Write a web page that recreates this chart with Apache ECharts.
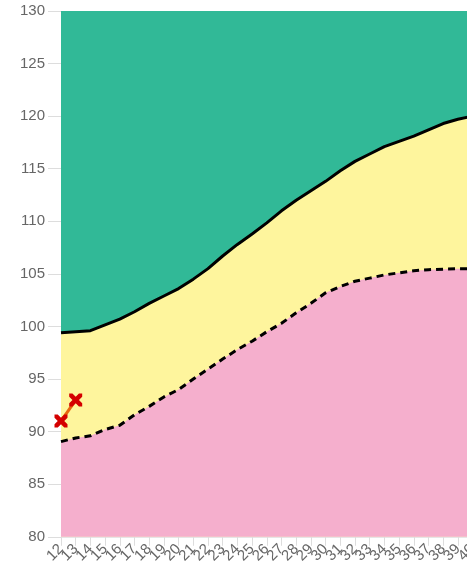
<!DOCTYPE html>
<html>
<head>
<meta charset="utf-8">
<script src="https://cdn.jsdelivr.net/npm/echarts@6/dist/echarts.min.js"></script>
<style>
  html, body { margin: 0; padding: 0; background: #fff; overflow: hidden; }
  #chart { width: 480px; height: 566px; }
</style>
</head>
<body>
<div id="chart"></div>
<script>
// ages along the x axis
const categories = ['12', '13', '14', '15', '16', '17', '18', '19', '20', '21', '22', '23', '24', '25', '26', '27', '28', '29', '30', '31', '32', '33', '34', '35', '36', '37', '38', '39', '40']
// upper reference curve (solid)
const upperValues = [99.4, 99.5, 99.6, 100.15, 100.7, 101.4, 102.2, 102.9, 103.6, 104.5, 105.5, 106.7, 107.8, 108.8, 109.85, 111.0, 112.0, 112.9, 113.8, 114.8, 115.7, 116.4, 117.1, 117.6, 118.1, 118.7, 119.3, 119.7, 120.0]
// lower reference curve (dashed)
const lowerValues = [89.05, 89.4, 89.6, 90.2, 90.6, 91.6, 92.4, 93.3, 94.0, 95.0, 95.95, 96.9, 97.8, 98.6, 99.5, 100.3, 101.3, 102.2, 103.2, 103.8, 104.3, 104.6, 104.9, 105.1, 105.3, 105.4, 105.45, 105.5, 105.5]
// measured points
const measured = [91, 93]
const yTicks = { min: 80, max: 130, step: 5 }

const crossPath = 'path://M0,0 L2.5,0 L5,2.5 L7.5,0 L10,0 L10,2.5 L7.5,5 L10,7.5 L10,10 L7.5,10 L5,7.5 L2.5,10 L0,10 L0,7.5 L2.5,5 L0,2.5 Z'

const chart = echarts.init(document.getElementById('chart'))
chart.setOption({
  animation: false,
  grid: { left: 61, right: 2, top: 11, bottom: 29 },
  xAxis: {
    type: 'category',
    boundaryGap: false,
    data: categories,
    axisLine: { show: false },
    axisTick: { show: true, length: 9, lineStyle: { color: '#ddd' } },
    axisLabel: { rotate: 45, interval: 0, color: '#666', fontSize: 15, margin: 10, fontFamily: 'Liberation Sans' }
  },
  yAxis: {
    type: 'value',
    min: yTicks.min,
    max: yTicks.max,
    interval: yTicks.step,
    axisLine: { show: false },
    axisTick: { show: true, length: 13, lineStyle: { color: '#ddd' } },
    axisLabel: { color: '#666', fontSize: 15, margin: 16, fontFamily: 'Liberation Sans' },
    splitLine: { show: true, lineStyle: { color: '#e6e6e6' } }
  },
  series: [
    {
      // yellow band under upper curve
      type: 'line',
      data: upperValues,
      symbol: 'none',
      lineStyle: { width: 0 },
      areaStyle: { color: '#fef59d', opacity: 1, origin: 'start' },
      z: 1
    },
    {
      type: 'line',
      data: lowerValues,
      symbol: 'none',
      lineStyle: { color: '#000', width: 3, type: [7, 5] },
      areaStyle: { color: '#f5afcd', opacity: 1, origin: 'start' },
      z: 2
    },
    {
      type: 'line',
      data: upperValues,
      symbol: 'none',
      lineStyle: { color: '#000', width: 3 },
      areaStyle: { color: '#31b997', opacity: 1, origin: 'end' },
      z: 3
    },
    {
      type: 'line',
      data: measured,
      symbol: crossPath,
      symbolSize: 13,
      itemStyle: { color: '#d40000' },
      lineStyle: { color: '#e8650f', width: 3 },
      z: 5
    }
  ]
})
</script>
</body>
</html>
